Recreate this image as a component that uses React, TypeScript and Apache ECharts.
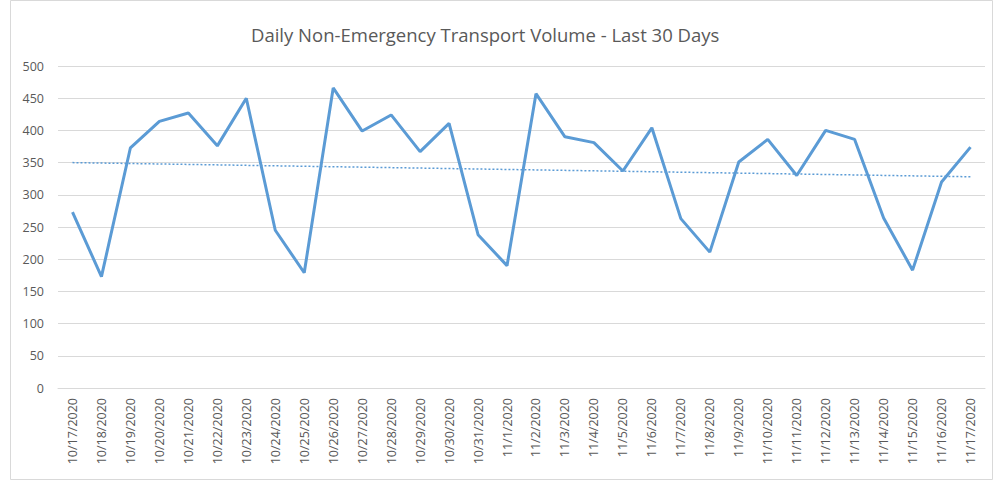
import React, { useEffect, useRef } from "react";
import * as echarts from "echarts";

const categories = [
  "10/17/2020", "10/18/2020", "10/19/2020", "10/20/2020", "10/21/2020", "10/22/2020",
  "10/23/2020", "10/24/2020", "10/25/2020", "10/26/2020", "10/27/2020", "10/28/2020",
  "10/29/2020", "10/30/2020", "10/31/2020", "11/1/2020", "11/2/2020", "11/3/2020",
  "11/4/2020", "11/5/2020", "11/6/2020", "11/7/2020", "11/8/2020", "11/9/2020",
  "11/10/2020", "11/11/2020", "11/12/2020", "11/13/2020", "11/14/2020", "11/15/2020",
  "11/16/2020", "11/17/2020",
];

const volumes = [
  273, 173, 373, 414, 427, 376, 450, 245, 179, 466, 399, 424, 367, 411, 238, 190,
  457, 390, 381, 337, 404, 263, 211, 351, 386, 330, 400, 386, 264, 183, 320, 374,
];

const trendStart = 350;
const trendEnd = 328;

const yTicks = { min: 0, max: 500, interval: 50 };

const TITLE = "Daily Non-Emergency Transport Volume - Last 30 Days";

export default function App() {
  const ref = useRef<HTMLDivElement>(null);
  useEffect(() => {
    document.body.style.margin = "0";
    if (!ref.current) return;
    const chart = echarts.init(ref.current, undefined, { renderer: "svg" });
    const font = "'Open Sans', 'Noto Sans', sans-serif";
    chart.setOption({
      animation: false,
      backgroundColor: "#ffffff",
      textStyle: { fontFamily: font },
      title: {
        text: TITLE,
        left: 246,
        top: 20,
        textStyle: { fontSize: 18.5, fontWeight: "normal", color: "#595959", fontFamily: font },
      },
      graphic: [
        {
          type: "rect",
          shape: { x: 10.5, y: 0.5, width: 982, height: 479 },
          style: { fill: "none", stroke: "#d9d9d9", lineWidth: 1 },
          silent: true,
        },
      ],
      grid: { left: 58, right: 9, top: 66, bottom: 93, containLabel: false },
      xAxis: {
        type: "category",
        data: categories,
        boundaryGap: true,
        axisLine: { show: true, lineStyle: { color: "#d9d9d9", width: 1 } },
        axisTick: { show: false },
        axisLabel: {
          interval: 0,
          rotate: 90,
          color: "#595959",
          fontSize: 12.5,
          margin: 10,
          fontFamily: font,
        },
      },
      yAxis: {
        type: "value",
        min: yTicks.min,
        max: yTicks.max,
        interval: yTicks.interval,
        axisLine: { show: false },
        axisTick: { show: false },
        splitLine: { lineStyle: { color: "#d9d9d9", width: 1 } },
        axisLabel: { color: "#595959", fontSize: 12.5, margin: 14, fontFamily: font },
      },
      series: [
        {
          type: "line",
          data: volumes,
          symbol: "none",
          lineStyle: { color: "#5b9bd5", width: 3 },
          itemStyle: { color: "#5b9bd5" },
          z: 3,
          markLine: {
            silent: true,
            symbol: ["none", "none"],
            label: { show: false },
            lineStyle: { color: "#5b9bd5", width: 1.5, type: [2, 2] },
            data: [
              [
                { coord: [categories[0], trendStart] },
                { coord: [categories[categories.length - 1], trendEnd] },
              ],
            ],
            z: 2,
          },
        },
      ],
    });
    return () => chart.dispose();
  }, []);
  return <div ref={ref} style={{ width: 994, height: 481 }} />;
}
